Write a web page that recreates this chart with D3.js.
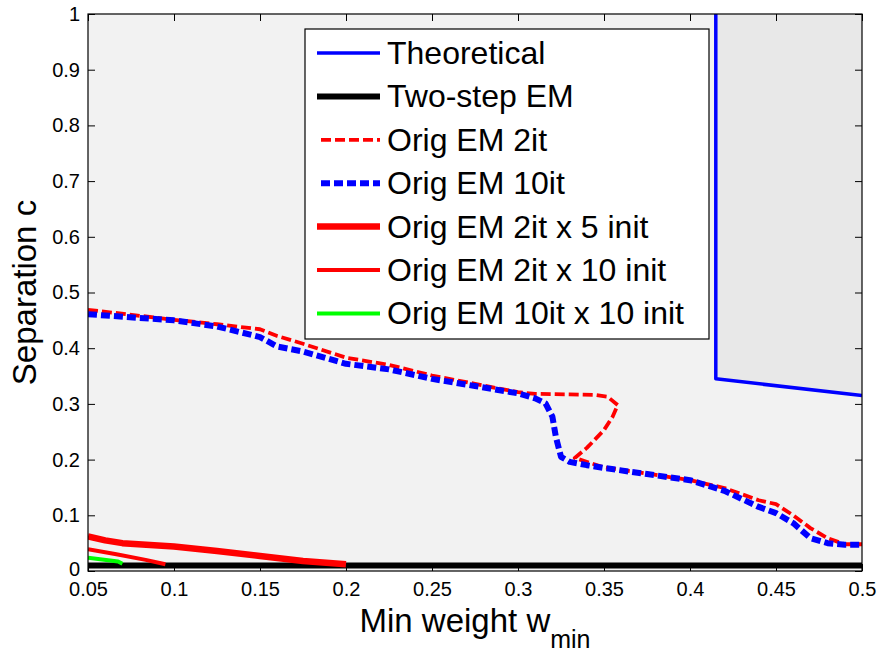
<!DOCTYPE html>
<html>
<head>
<meta charset="utf-8">
<script src="https://cdn.jsdelivr.net/npm/d3@7"></script>
<style>
  body { margin: 0; background: #fff; }
  svg { font-family: Arial, "Liberation Sans", sans-serif; }
</style>
</head>
<body>
<div id="svg-container" style="width:877px;height:657px"></div>
<script>
////////////////////////////  Data  ////////////////////////////
const xTicks = [0.05, 0.1, 0.15, 0.2, 0.25, 0.3, 0.35, 0.4, 0.45, 0.5];
const yTicks = [0, 0.1, 0.2, 0.3, 0.4, 0.5, 0.6, 0.7, 0.8, 0.9, 1];

// Theoretical
const wTheory = [0.415, 0.415, 0.5];
const cTheory = [1, 0.345, 0.315];

// Two-step EM
const wTwoStep = [0.05, 0.5];
const cTwoStep = [0.01, 0.01];

// Orig EM 2it
const wEm2 = [0.05, 0.1, 0.125, 0.15, 0.16, 0.175, 0.2, 0.225, 0.25, 0.275, 0.3, 0.31, 0.33, 0.345, 0.352, 0.358,
  0.355, 0.35, 0.34, 0.333, 0.35, 0.375, 0.4, 0.42, 0.44, 0.45, 0.46, 0.47, 0.48, 0.49, 0.5];
const cEm2 = [0.469, 0.451, 0.443, 0.434, 0.422, 0.408, 0.383, 0.37, 0.351, 0.336, 0.321, 0.318, 0.317, 0.316, 0.313, 0.298,
  0.277, 0.253, 0.221, 0.203, 0.186, 0.175, 0.163, 0.149, 0.127, 0.12, 0.1, 0.077, 0.059, 0.048, 0.048];

// Orig EM 10it
const wEm10 = [0.05, 0.1, 0.125, 0.15, 0.16, 0.175, 0.2, 0.225, 0.25, 0.275, 0.3, 0.31, 0.316, 0.32, 0.322, 0.325,
  0.33, 0.34, 0.35, 0.375, 0.4, 0.42, 0.44, 0.45, 0.46, 0.47, 0.48, 0.49, 0.5];
const cEm10 = [0.461, 0.45, 0.439, 0.42, 0.403, 0.394, 0.372, 0.362, 0.345, 0.332, 0.319, 0.31, 0.301, 0.277, 0.241, 0.205,
  0.196, 0.19, 0.185, 0.174, 0.163, 0.144, 0.115, 0.104, 0.086, 0.059, 0.05, 0.047, 0.047];

// Orig EM 2it x 5 init
const wEm2x5 = [0.05, 0.06, 0.07, 0.1, 0.125, 0.15, 0.175, 0.2];
const cEm2x5 = [0.062, 0.055, 0.05, 0.044, 0.036, 0.027, 0.018, 0.012];

// Orig EM 2it x 10 init
const wEm2x10 = [0.05, 0.0665, 0.0835, 0.095];
const cEm2x10 = [0.039, 0.03, 0.02, 0.012];

// Orig EM 10it x 10 init
const wEm10x10 = [0.05, 0.0675, 0.07];
const cEm10x10 = [0.024, 0.017, 0.013];

const series = [
  { name: "Theoretical", w: wTheory, c: cTheory, color: "#0000ff", width: 3.5, dash: null },
  { name: "Two-step EM", w: wTwoStep, c: cTwoStep, color: "#000000", width: 6, dash: null },
  { name: "Orig EM 2it", w: wEm2, c: cEm2, color: "#ff0000", width: 3.8, dash: "10,4" },
  { name: "Orig EM 10it", w: wEm10, c: cEm10, color: "#0000ff", width: 6, dash: "9,4" },
  { name: "Orig EM 2it x 5 init", w: wEm2x5, c: cEm2x5, color: "#ff0000", width: 6.5, dash: null },
  { name: "Orig EM 2it x 10 init", w: wEm2x10, c: cEm2x10, color: "#ff0000", width: 4, dash: null },
  { name: "Orig EM 10it x 10 init", w: wEm10x10, c: cEm10x10, color: "#00ff00", width: 4, dash: null }
];

////////////////////////////  Init  ////////////////////////////
const width = 877;
const height = 657;
const margin = { top: 14, right: 15, bottom: 86, left: 88 };

const svg = d3.select("#svg-container").append("svg")
  .attr("width", width).attr("height", height);

const xScale = d3.scaleLinear().domain([0.05, 0.5]).range([margin.left, width - margin.right]);
const yScale = d3.scaleLinear().domain([0, 1]).range([height - margin.bottom, margin.top]);

const line = d3.line().x((d) => xScale(d[0])).y((d) => yScale(d[1]));

svg.append("defs").append("clipPath").attr("id", "clip")
  .append("rect")
  .attr("x", margin.left).attr("y", margin.top)
  .attr("width", width - margin.left - margin.right)
  .attr("height", height - margin.top - margin.bottom);

// plot background
svg.append("rect")
  .attr("x", margin.left).attr("y", margin.top)
  .attr("width", width - margin.left - margin.right)
  .attr("height", height - margin.top - margin.bottom)
  .attr("fill", "#f2f2f2");

// shaded region above the theoretical curve
const theoryPts = d3.zip(wTheory, cTheory).slice(1);
svg.append("path")
  .datum(theoryPts)
  .attr("d", d3.area().x((d) => xScale(d[0])).y0(yScale(1)).y1((d) => yScale(d[1])))
  .attr("fill", "#e8e8e8");

// lines
const plot = svg.append("g").attr("clip-path", "url(#clip)");
series.forEach((s) => {
  plot.append("path")
    .datum(d3.zip(s.w, s.c))
    .attr("d", line)
    .attr("fill", "none")
    .attr("stroke", s.color)
    .attr("stroke-width", s.width)
    .attr("stroke-dasharray", s.dash)
    .attr("stroke-linejoin", "round");
});

// axes (ticks inward on all sides)
const tickLen = 7;
const xAxis = d3.axisBottom(xScale).tickValues(xTicks).tickSize(-tickLen).tickPadding(13)
  .tickFormat((d) => String(+d.toFixed(2)));
const yAxis = d3.axisLeft(yScale).tickValues(yTicks).tickSize(-tickLen).tickPadding(8)
  .tickFormat((d) => String(+d.toFixed(1)));

const gx = svg.append("g").attr("transform", `translate(0,${height - margin.bottom})`).call(xAxis);
const gy = svg.append("g").attr("transform", `translate(${margin.left},0)`).call(yAxis);
svg.append("g").attr("transform", `translate(0,${margin.top})`)
  .call(d3.axisTop(xScale).tickValues(xTicks).tickSize(-tickLen).tickFormat(""));
svg.append("g").attr("transform", `translate(${width - margin.right},0)`)
  .call(d3.axisRight(yScale).tickValues(yTicks).tickSize(-tickLen).tickFormat(""));

svg.selectAll(".domain").remove();
svg.selectAll(".tick line").attr("stroke", "#000").attr("stroke-width", 1);
gx.selectAll("text").style("font-size", "20px").attr("fill", "#000").attr("dy", "0.6em");
gy.selectAll("text").style("font-size", "20px").attr("fill", "#000");
// keep the "0" label clear of the "0.05" label below it
gy.selectAll("text").filter((d) => d === 0).attr("dy", "0.2em");

// box
svg.append("rect")
  .attr("x", margin.left).attr("y", margin.top)
  .attr("width", width - margin.left - margin.right)
  .attr("height", height - margin.top - margin.bottom)
  .attr("fill", "none").attr("stroke", "#000").attr("stroke-width", 1.2);

// axis labels
const xLabel = svg.append("text")
  .attr("x", 475).attr("y", 632)
  .attr("text-anchor", "middle")
  .style("font-size", "33px");
xLabel.append("tspan").text("Min weight w");
xLabel.append("tspan").attr("dy", 16).style("font-size", "25px").text("min");

svg.append("text")
  .attr("transform", `translate(36,${(margin.top + height - margin.bottom) / 2}) rotate(-90)`)
  .attr("text-anchor", "middle")
  .style("font-size", "33px")
  .text("Separation c");

// legend
const legend = svg.append("g");
legend.append("rect")
  .attr("x", 305).attr("y", 29).attr("width", 404).attr("height", 310)
  .attr("fill", "#fff").attr("stroke", "#000").attr("stroke-width", 1.2);

series.forEach((s, i) => {
  const y = 53 + i * 43.4;
  legend.append("line")
    .attr("x1", s.dash ? 321 : 317).attr("x2", 380)
    .attr("y1", y).attr("y2", y)
    .attr("stroke", s.color)
    .attr("stroke-width", s.width)
    .attr("stroke-dasharray", s.dash);
  legend.append("text")
    .attr("x", 387).attr("y", y + 11)
    .style("font-size", "32px")
    .text(s.name);
});
</script>
</body>
</html>
